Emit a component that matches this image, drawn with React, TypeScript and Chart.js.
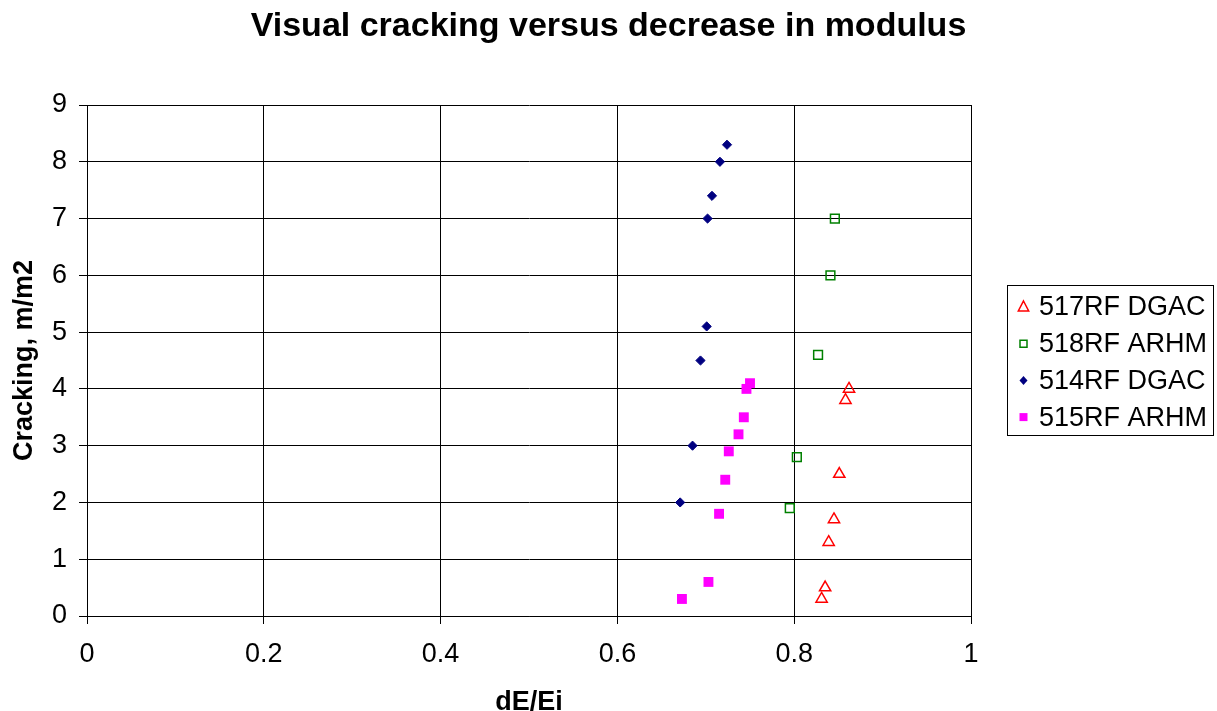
import React, { useEffect, useRef } from "react";
import { Chart, registerables } from "chart.js";

Chart.register(...registerables);

const seriesNames = ["517RF DGAC", "518RF ARHM", "514RF DGAC", "515RF ARHM"];

const x517 = [0.862, 0.858, 0.851, 0.845, 0.839, 0.835, 0.831];
const y517 = [4.0, 3.8, 2.5, 1.7, 1.3, 0.5, 0.3];

const x518 = [0.846, 0.841, 0.827, 0.803, 0.795];
const y518 = [7.0, 6.0, 4.6, 2.8, 1.9];

const x514 = [0.724, 0.716, 0.707, 0.702, 0.701, 0.694, 0.685, 0.671];
const y514 = [8.3, 8.0, 7.4, 7.0, 5.1, 4.5, 3.0, 2.0];

const x515 = [0.75, 0.746, 0.743, 0.737, 0.726, 0.722, 0.715, 0.703, 0.673];
const y515 = [4.1, 4.0, 3.5, 3.2, 2.9, 2.4, 1.8, 0.6, 0.3];

const xTickLabels = ["0", "0.2", "0.4", "0.6", "0.8", "1"];
const yTickLabels = ["0", "1", "2", "3", "4", "5", "6", "7", "8", "9"];

const FONT = "'Liberation Sans', Arial, sans-serif";

const pts = (xs: number[], ys: number[]) => xs.map((x, i) => ({ x, y: ys[i] }));

function drawMarker(ctx: CanvasRenderingContext2D, kind: string, x: number, y: number, color: string) {
  ctx.save();
  ctx.strokeStyle = color;
  ctx.fillStyle = color;
  ctx.lineWidth = 1.5;
  ctx.beginPath();
  if (kind === "triangle") {
    ctx.moveTo(x, y - 6);
    ctx.lineTo(x + 5.2, y + 4);
    ctx.lineTo(x - 5.2, y + 4);
    ctx.closePath();
    ctx.stroke();
  } else if (kind === "openSquare") {
    ctx.rect(x - 3.5, y - 3.5, 7, 7);
    ctx.stroke();
  } else if (kind === "diamond") {
    ctx.moveTo(x, y - 4.5);
    ctx.lineTo(x + 4, y);
    ctx.lineTo(x, y + 4.5);
    ctx.lineTo(x - 4, y);
    ctx.closePath();
    ctx.fill();
  } else {
    ctx.rect(x - 4, y - 4, 8, 8);
    ctx.fill();
  }
  ctx.restore();
}

const legendKinds = ["triangle", "openSquare", "diamond", "filledSquare"];
const legendColors = ["#FF0000", "#008000", "#000080", "#FF00FF"];

const legendPlugin = {
  id: "customLegend",
  afterDraw(chart: any) {
    const ctx = chart.ctx as CanvasRenderingContext2D;
    const left = chart.chartArea.right + 36.5;
    const top = 285.5;
    const w = 206;
    const h = 150;
    ctx.save();
    ctx.fillStyle = "#fff";
    ctx.fillRect(left, top, w, h);
    ctx.strokeStyle = "#000";
    ctx.lineWidth = 1;
    ctx.strokeRect(left, top, w, h);
    ctx.font = `27px ${FONT}`;
    ctx.textBaseline = "middle";
    ctx.textAlign = "left";
    seriesNames.forEach((name, i) => {
      const cy = 307 + i * 36.7;
      drawMarker(ctx, legendKinds[i], left + 16, cy, legendColors[i]);
      ctx.fillStyle = "#000";
      ctx.fillText(name, left + 31.5, cy + 1);
    });
    ctx.restore();
  },
};

export default function App() {
  const ref = useRef<HTMLCanvasElement | null>(null);

  useEffect(() => {
    if (!ref.current) return;
    const chart = new Chart(ref.current, {
      type: "scatter",
      data: {
        datasets: [
          {
            label: seriesNames[0],
            data: pts(x517, y517),
            pointStyle: "triangle",
            pointRadius: 6.5,
            pointBorderWidth: 1.5,
            borderColor: "#FF0000",
            backgroundColor: "rgba(0,0,0,0)",
            pointBackgroundColor: "rgba(0,0,0,0)",
            pointBorderColor: "#FF0000",
          },
          {
            label: seriesNames[1],
            data: pts(x518, y518),
            pointStyle: "rect",
            pointRadius: 6.2,
            pointBorderWidth: 1.5,
            borderColor: "#008000",
            backgroundColor: "rgba(0,0,0,0)",
            pointBackgroundColor: "rgba(0,0,0,0)",
            pointBorderColor: "#008000",
          },
          {
            label: seriesNames[2],
            data: pts(x514, y514),
            pointStyle: "rectRot",
            pointRadius: 4.6,
            pointBorderWidth: 1,
            borderColor: "#000080",
            backgroundColor: "#000080",
            pointBackgroundColor: "#000080",
            pointBorderColor: "#000080",
          },
          {
            label: seriesNames[3],
            data: pts(x515, y515),
            pointStyle: "rect",
            pointRadius: 7,
            pointBorderWidth: 0,
            borderColor: "#FF00FF",
            backgroundColor: "#FF00FF",
            pointBackgroundColor: "#FF00FF",
            pointBorderColor: "#FF00FF",
          },
        ],
      },
      options: {
        responsive: false,
        animation: false,
        devicePixelRatio: 1,
        layout: { padding: 0 },
        plugins: {
          legend: { display: false },
          tooltip: { enabled: false },
          title: {
            display: true,
            text: "Visual cracking versus decrease in modulus",
            color: "#000",
            font: { family: FONT, size: 34, weight: "bold", lineHeight: 1.2 },
            padding: { top: 6, bottom: 58.2 },
          },
        },
        scales: {
          x: {
            type: "linear",
            min: 0,
            max: 1,
            afterFit: (s: any) => {
              s.height = 95;
            },
            afterBuildTicks: (s: any) => {
              s.ticks = xTickLabels.map((t) => ({ value: Number(t) }));
            },
            ticks: {
              color: "#000",
              font: { family: FONT, size: 27 },
              padding: 14,
              maxRotation: 0,
              autoSkip: false,
              callback: (v: any) => xTickLabels.find((t) => Math.abs(Number(t) - Number(v)) < 1e-6) ?? "",
            },
            grid: { color: "#000", lineWidth: 1, tickLength: 8, drawTicks: true },
            border: { color: "#000", width: 1 },
            title: {
              display: true,
              text: "dE/Ei",
              color: "#000",
              font: { family: FONT, size: 27, weight: "bold", lineHeight: 0.6 },
              padding: { top: 0, bottom: 0 },
            },
          },
          y: {
            type: "linear",
            position: "left",
            min: 0,
            max: 9,
            afterFit: (s: any) => {
              s.width = 87;
            },
            afterBuildTicks: (s: any) => {
              s.ticks = yTickLabels.map((t) => ({ value: Number(t) }));
            },
            ticks: {
              color: "#000",
              font: { family: FONT, size: 27 },
              padding: 12,
              autoSkip: false,
              callback: (v: any) => yTickLabels.find((t) => Math.abs(Number(t) - Number(v)) < 1e-6) ?? "",
            },
            grid: { color: "#000", lineWidth: 1, tickLength: 8, drawTicks: true },
            border: { color: "#000", width: 1 },
            title: {
              display: true,
              text: "Cracking, m/m2",
              color: "#000",
              font: { family: FONT, size: 27, weight: "bold", lineHeight: 1.2 },
              padding: { top: 8, bottom: 0 },
            },
          },
          legendSpace: {
            type: "linear",
            position: "right",
            display: true,
            min: 0,
            max: 9,
            afterFit: (s: any) => {
              s.width = 246;
            },
            ticks: { display: false },
            grid: { display: false, drawTicks: false },
            border: { display: false },
          },
        },
      },
      plugins: [legendPlugin],
    } as any);
    return () => chart.destroy();
  }, []);

  return (
    <div style={{ position: "absolute", left: 0, top: 0, width: 1217, height: 711, background: "#fff" }}>
      <canvas ref={ref} width={1217} height={711} />
    </div>
  );
}
